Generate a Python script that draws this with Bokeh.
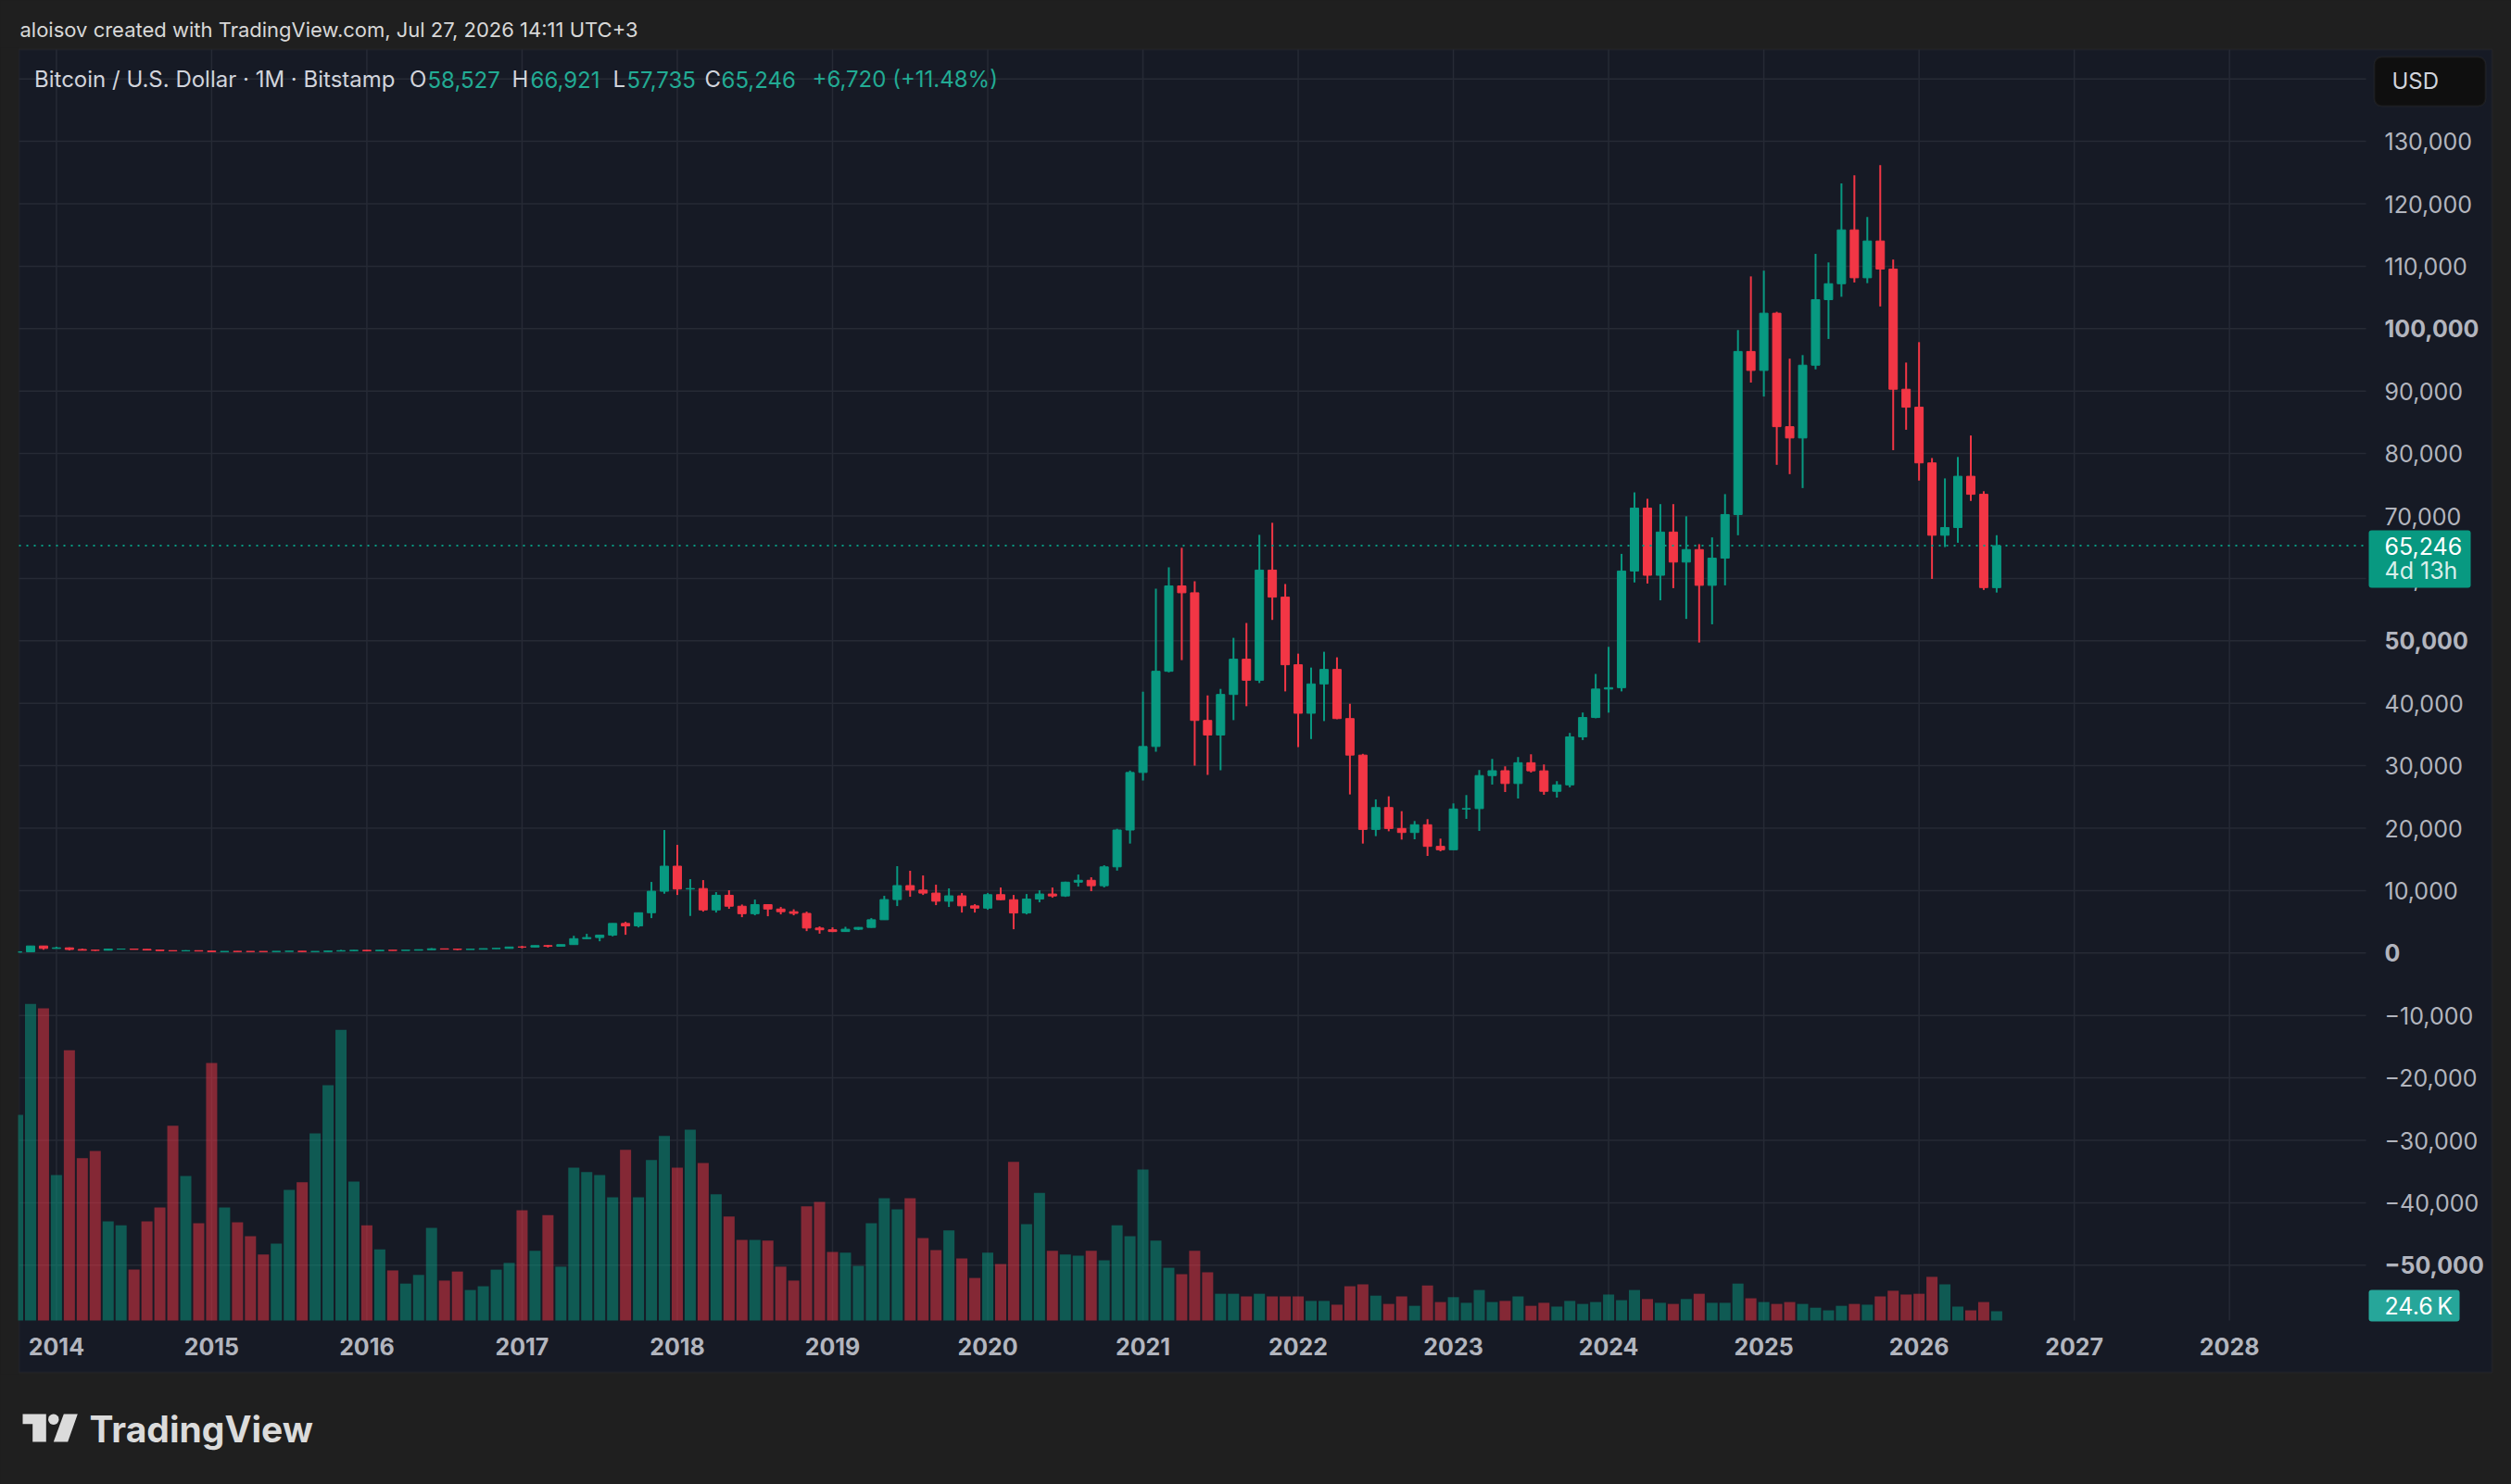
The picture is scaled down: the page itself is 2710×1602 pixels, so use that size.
import math
from bokeh.plotting import figure
from bokeh.models import (Range1d, LinearAxis, FixedTicker, Label, BoxAnnotation,
                          PolyAnnotation, ColumnDataSource, GlobalInlineStyleSheet)
from bokeh.embed import file_html
from bokeh.resources import INLINE

# ---------------- data: monthly bars, first bar = Oct 2013 (Jan 2014 = index 0) ----------------
first_index = -3

open_ = [
    128, 203, 1130,
    732, 829, 570, 447, 443, 628, 639, 584, 478, 387, 338, 378,
    318, 217, 254, 244, 236, 230, 263, 284, 230, 236, 314, 377,
    430, 368, 437, 416, 448, 531, 673, 624, 573, 609, 700, 742,
    963, 960, 1190, 1080, 1348, 2300, 2480, 2875, 4740, 4340, 6450, 9900,
    13910, 10250, 10330, 6900, 9250, 7500, 6300, 7750, 7050, 6620, 6350, 4000,
    3720, 3440, 3810, 4100, 5330, 8560, 10800, 10080, 9600, 8300, 9160, 7560,
    7190, 9350, 8540, 6410, 8640, 9450, 9140, 11350, 11650, 10780, 13800, 19700,
    28920, 33080, 45125, 58800, 57700, 37250, 34920, 41410, 47060, 43690, 61330, 57000,
    46170, 38400, 43100, 45420, 37550, 31700, 19800, 23300, 19950, 19300, 20545, 17080,
    16540, 23070, 23130, 28420, 29200, 27150, 30480, 29180, 25900, 26930, 34620, 37720,
    42280, 42500, 61185, 71265, 60500, 67425, 62615, 64620, 58890, 63245, 70230, 96350,
    93310, 102475, 84300, 82490, 94150, 104650, 107200, 115820, 108150, 114040, 109550, 90300,
    87420, 78500, 66910, 68150, 76360, 73470, 58527,
]
high = [
    210, 1163, 1160,
    1000, 900, 710, 540, 630, 680, 660, 600, 495, 415, 460, 387,
    320, 265, 300, 260, 248, 268, 317, 287, 243, 334, 502, 470,
    462, 448, 440, 468, 550, 780, 703, 626, 628, 721, 755, 973,
    1150, 1210, 1300, 1350, 2760, 3070, 2930, 4750, 5000, 6485, 11385, 19700,
    17325, 11830, 11680, 9750, 10050, 7770, 8560, 7760, 7375, 7000, 6630, 4260,
    4110, 4200, 4150, 5590, 9160, 13910, 13170, 12420, 10940, 10350, 9600, 7820,
    9600, 10490, 9300, 9450, 10050, 10490, 11430, 12570, 12130, 14060, 19900, 29220,
    41855, 58355, 61775, 64900, 59540, 41260, 42300, 50480, 52860, 66980, 68910, 59100,
    47950, 45720, 48250, 47360, 39920, 31900, 24610, 25100, 22720, 21140, 21440, 18320,
    23960, 25300, 29310, 31090, 29900, 31390, 31830, 30200, 27530, 35250, 38515, 44700,
    49040, 63930, 73780, 72750, 71900, 71900, 69950, 65480, 66570, 73500, 99780, 108370,
    109290, 102700, 95200, 95770, 111980, 110610, 123260, 124580, 117880, 126180, 111070, 94570,
    97840, 79280, 76020, 79450, 82890, 73960, 66921,
]
low = [
    102, 197, 522,
    730, 400, 440, 340, 420, 550, 563, 450, 360, 275, 323, 306,
    152, 212, 235, 212, 226, 217, 252, 198, 225, 235, 296, 350,
    351, 365, 394, 414, 436, 523, 605, 470, 566, 606, 680, 740,
    752, 915, 890, 1050, 1340, 2230, 1880, 2670, 2920, 4100, 5590, 9500,
    9300, 5940, 6630, 6480, 7080, 5740, 6040, 5890, 6190, 6040, 3510, 3100,
    3350, 3380, 3670, 4050, 5330, 7520, 9010, 9300, 7670, 7375, 6480, 6480,
    6930, 8450, 3810, 6190, 8120, 8860, 8990, 10640, 9900, 10500, 13200, 17530,
    27630, 32240, 44950, 46910, 30010, 28530, 29270, 37300, 39530, 43240, 53350, 41900,
    32980, 34270, 37150, 37450, 25400, 17530, 18720, 19500, 18170, 18220, 15550, 16290,
    16500, 21490, 19560, 26980, 25790, 24750, 28910, 25350, 24900, 26540, 34110, 37600,
    38500, 41900, 59350, 59180, 56490, 58440, 53510, 49730, 52650, 58890, 66910, 91370,
    89130, 78190, 76700, 74470, 93480, 98350, 105110, 107400, 107290, 103560, 80540, 83810,
    75670, 59920, 65020, 65710, 72410, 58150, 57735,
]
close = [
    203, 1130, 732,
    829, 570, 445, 443, 628, 639, 584, 478, 387, 338, 378, 318,
    217, 254, 244, 236, 230, 263, 284, 230, 236, 314, 377, 430,
    368, 437, 416, 448, 531, 673, 624, 573, 609, 700, 742, 963,
    960, 1190, 1080, 1348, 2300, 2480, 2875, 4740, 4340, 6450, 9900, 13910,
    10250, 10330, 6900, 9250, 7500, 6300, 7750, 7050, 6620, 6350, 4000, 3720,
    3440, 3810, 4100, 5330, 8560, 10800, 10080, 9600, 8300, 9160, 7560, 7190,
    9350, 8540, 6410, 8640, 9450, 9140, 11350, 11650, 10780, 13800, 19700, 28920,
    33080, 45125, 58800, 57700, 37250, 34920, 41410, 47060, 43690, 61330, 57000, 46170,
    38400, 43100, 45420, 37550, 31700, 19800, 23300, 19950, 19300, 20545, 17080, 16540,
    23070, 23130, 28420, 29200, 27150, 30480, 29180, 25900, 26930, 34620, 37720, 42280,
    42500, 61185, 71265, 60500, 67425, 62615, 64620, 58890, 63245, 70230, 96350, 93310,
    102475, 84300, 82490, 94150, 104650, 107200, 115820, 108150, 114040, 109550, 90300, 87420,
    78500, 66910, 68150, 76360, 73470, 58527, 65246,
]
volume_k = [
    546, 841, 829,
    386, 718, 431, 450, 263, 253, 135, 263, 300, 517, 384, 258,
    684, 300, 261, 224, 175, 204, 347, 367, 497, 625, 772, 369,
    253, 189, 133, 98, 121, 246, 106, 130, 81, 91, 135, 153,
    293, 185, 280, 143, 406, 394, 386, 327, 453, 327, 426, 490,
    406, 507, 418, 335, 276, 214, 214, 212, 143, 106, 303, 315,
    182, 180, 145, 258, 325, 295, 325, 219, 187, 239, 165, 113,
    180, 150, 421, 256, 339, 185, 175, 172, 185, 160, 253, 224,
    401, 212, 140, 123, 185, 128, 71, 71, 64, 71, 64, 64,
    64, 52, 52, 42, 91, 96, 66, 44, 64, 39, 93, 49,
    62, 47, 81, 49, 52, 64, 39, 47, 37, 52, 44, 49,
    69, 54, 81, 57, 47, 44, 57, 71, 47, 47, 98, 59,
    49, 44, 49, 44, 34, 27, 39, 44, 42, 64, 79, 69,
    71, 116, 96, 37, 27, 49, 24.6,
]
year_labels = [str(y) for y in range(2014, 2029)]
year_ticks = [12 * i for i in range(len(year_labels))]
price_ticks = list(range(-50000, 130001, 10000))
bold_price_ticks = [100000, 50000, 0, -50000]
grid_price_levels = list(range(-50000, 140001, 10000))
change_text = "+6,720 (+11.48%)"
countdown_text = "4d 13h"
volume_text = "24.6\u202fK"
header_text = "aloisov created with TradingView.com, Jul 27, 2026 14:11 UTC+3"
symbol_text = "Bitcoin / U.S. Dollar \u00b7 1M \u00b7 Bitstamp"

# ---------------- layout (page pixels) ----------------
W, H = 2710, 1602
PANE_L, PANE_R, PANE_T, PANE_B = 20, 2689, 53, 1481
X_JAN2014 = 60.4      # pixel of the Jan 2014 bar
PX_MONTH = 13.96
Y_ZERO = 1028.3       # pixel of price 0
PX_10K = 67.4
Y_VOL0 = 1425.0       # pixel of volume 0
VOL_PER_PX = 2.46
PRICE_EDGE = 2553     # right edge of the price area

OUTER = "#1F1F1F"
PANE = "#161A25"
GRID = "#262A35"
AXIS_TXT = "#B2B5BE"
UP = "#089981"
DOWN = "#F23645"
FONT = "Inter"


def xval(px):
    return (px - X_JAN2014) / PX_MONTH


def yval(py):
    return (Y_ZERO - py) / PX_10K * 10000


def vval(py):
    return (Y_VOL0 - py) * VOL_PER_PX


def fmt_price(v):
    s = f"{abs(v):,}"
    return "\u2212" + s if v < 0 else s


n = len(close)
xs = [first_index + i for i in range(n)]
cols = [UP if c >= o else DOWN for o, c in zip(open_, close)]
src = ColumnDataSource(dict(
    x=xs, o=open_, h=high, l=low, c=close,
    top=[max(o, c) for o, c in zip(open_, close)],
    bot=[min(o, c) for o, c in zip(open_, close)],
    col=cols, vol=volume_k,
))

p = figure(width=W, height=H, output_backend="svg", toolbar_location=None,
           x_axis_type=None, y_axis_type=None,
           x_range=Range1d(xval(0), xval(W)),
           y_range=Range1d(yval(H), yval(0)),
           min_border_left=0, min_border_right=0, min_border_top=0, min_border_bottom=0,
           background_fill_color=OUTER, border_fill_color=OUTER, outline_line_color=None)
p.extra_y_ranges = {"vol": Range1d(vval(H), vval(0))}
p.stylesheets = [GlobalInlineStyleSheet(css="html, body { background-color: #1F1F1F; }")]


def sx(px):
    return px


def sy(py):
    return H - py


def screen_box(l, r, t, b, **kw):
    return BoxAnnotation(left=sx(l), right=sx(r), top=sy(t), bottom=sy(b),
                         left_units="screen", right_units="screen", top_units="screen",
                         bottom_units="screen", **kw)


# chart pane background
p.add_layout(screen_box(PANE_L, PANE_R, PANE_T, PANE_B, fill_color=PANE, fill_alpha=1.0,
                        line_color="#2E2F34", line_width=2, level="underlay"))

x_lo = xval(PANE_L)
x_edge = xval(PRICE_EDGE)
y_top = yval(PANE_T)
y_base = yval(Y_VOL0)

# grid
p.segment(x0=[x_lo] * len(grid_price_levels), x1=[x_edge] * len(grid_price_levels),
          y0=grid_price_levels, y1=grid_price_levels, line_color=GRID, line_width=1.5)
p.segment(x0=year_ticks, x1=year_ticks, y0=[y_base] * len(year_ticks), y1=[y_top] * len(year_ticks),
          line_color=GRID, line_width=1.5)

# volume
p.vbar(x="x", width=12 / PX_MONTH, top="vol", bottom=0, fill_color="col", fill_alpha=0.5,
       line_color=None, y_range_name="vol", source=src)

# candles
p.segment(x0="x", x1="x", y0="l", y1="h", line_color="col", line_width=2, source=src)
p.vbar(x="x", width=9 / PX_MONTH, top="top", bottom="bot", fill_color="col",
       line_color="col", line_width=1, source=src)

# last price line
p.segment(x0=[x_lo], x1=[x_edge], y0=[close[-1]], y1=[close[-1]], line_color=UP,
          line_width=2, line_dash="2 6")

# clip the series at the left border of the pane
p.add_layout(screen_box(0, PANE_L - 1, PANE_T - 2, PANE_B + 2, fill_color=OUTER, fill_alpha=1.0,
                        line_color=None))


def style_axis(ax, bold=False, size="25px"):
    ax.axis_line_color = None
    ax.major_tick_line_color = None
    ax.minor_tick_line_color = None
    ax.major_tick_out = 0
    ax.major_tick_in = 0
    ax.major_label_text_font = FONT
    ax.major_label_text_font_size = size
    ax.major_label_text_color = AXIS_TXT
    if bold:
        ax.major_label_text_font_style = "bold"


normal_ticks = [t for t in price_ticks if t not in bold_price_ticks]
yax = LinearAxis(fixed_location=x_edge, ticker=FixedTicker(ticks=normal_ticks),
                 major_label_overrides={t: fmt_price(t) for t in normal_ticks})
style_axis(yax)
yax.major_label_standoff = 20
p.add_layout(yax, "right")

yax_b = LinearAxis(fixed_location=x_edge, ticker=FixedTicker(ticks=bold_price_ticks),
                   major_label_overrides={t: fmt_price(t) for t in bold_price_ticks})
style_axis(yax_b, bold=True)
yax_b.major_label_standoff = 20
p.add_layout(yax_b, "right")

xax = LinearAxis(fixed_location=y_base, ticker=FixedTicker(ticks=year_ticks),
                 major_label_overrides={t: lab for t, lab in zip(year_ticks, year_labels)})
style_axis(xax, bold=True)
xax.major_label_standoff = 18
p.add_layout(xax, "below")


def add_label(text, px, py, color, size="24px", style="normal", baseline="middle", alpha=1.0):
    p.add_layout(Label(x=sx(px), y=sy(py), x_units="screen", y_units="screen", text=text,
                       text_font=FONT, text_font_size=size, text_color=color,
                       text_font_style=style, text_baseline=baseline, text_align="left",
                       text_alpha=alpha))


# header
add_label(header_text, 21, 31, "#D8D8D8", size="22px")

# legend line
LEG_Y = 85
GRAY = "#D1D4DC"
GREEN_TXT = "#22AB94"
add_label(symbol_text, 36.5, LEG_Y, GRAY)
add_label("O", 441.5, LEG_Y, GRAY)
add_label(f"{open_[-1]:,}", 461, LEG_Y, GREEN_TXT)
add_label("H", 552, LEG_Y, GRAY)
add_label(f"{high[-1]:,}", 572, LEG_Y, GREEN_TXT)
add_label("L", 661, LEG_Y, GRAY)
add_label(f"{low[-1]:,}", 676, LEG_Y, GREEN_TXT)
add_label("C", 760, LEG_Y, GRAY)
add_label(f"{close[-1]:,}", 778, LEG_Y, GREEN_TXT)
add_label(change_text, 876, LEG_Y, GREEN_TXT)


def add_box(l, r, t, b, fill, line=None, radius=0):
    box = screen_box(l, r, t, b, fill_color=fill, fill_alpha=1.0, line_color=line, line_width=2)
    try:
        box.border_radius = radius
    except Exception:
        pass
    p.add_layout(box)


# USD box
add_box(2562, 2682, 61, 114, "#0F0F0F", line="#363636", radius=8)
add_label("USD", 2581, 87, GRAY)

# last price box
price_py = Y_ZERO - close[-1] / 10000 * PX_10K
add_box(2556, 2666, price_py - 16.5, price_py + 45.5, UP, radius=3)
add_label(fmt_price(close[-1]), 2573, price_py, "#FFFFFF", size="25px")
add_label(countdown_text, 2573, price_py + 27, "#FFFFFF", size="25px", alpha=0.85)

# volume box
vol_py = Y_VOL0 - volume_k[-1] / VOL_PER_PX
add_box(2556, 2654, vol_py - 23, vol_py + 11, "#26A69A", radius=3)
add_label(volume_text, 2573, vol_py - 6, "#FFFFFF", size="25px")

# TradingView logo
LOGO = "#DBDBDB"
p.add_layout(PolyAnnotation(xs=[sx(v) for v in [24, 49.3, 49.3, 34.7, 34.7, 24]],
                            ys=[sy(v) for v in [1526, 1526, 1556, 1556, 1536.7, 1536.7]],
                            xs_units="screen", ys_units="screen",
                            fill_color=LOGO, fill_alpha=1, line_color=None))
circ_x = [57.3 + 5.7 * math.cos(2 * math.pi * k / 24) for k in range(24)]
circ_y = [1531.7 + 5.7 * math.sin(2 * math.pi * k / 24) for k in range(24)]
p.add_layout(PolyAnnotation(xs=[sx(v) for v in circ_x], ys=[sy(v) for v in circ_y],
                            xs_units="screen", ys_units="screen",
                            fill_color=LOGO, fill_alpha=1, line_color=None))
p.add_layout(PolyAnnotation(xs=[sx(v) for v in [68.3, 83.3, 72.7, 57.3]],
                            ys=[sy(v) for v in [1526, 1526, 1556, 1556]],
                            xs_units="screen", ys_units="screen",
                            fill_color=LOGO, fill_alpha=1, line_color=None))
add_label("TradingView", 96, 1542, LOGO, size="39px", style="bold", baseline="middle")

open("out.html", "w").write(file_html(p, INLINE))
